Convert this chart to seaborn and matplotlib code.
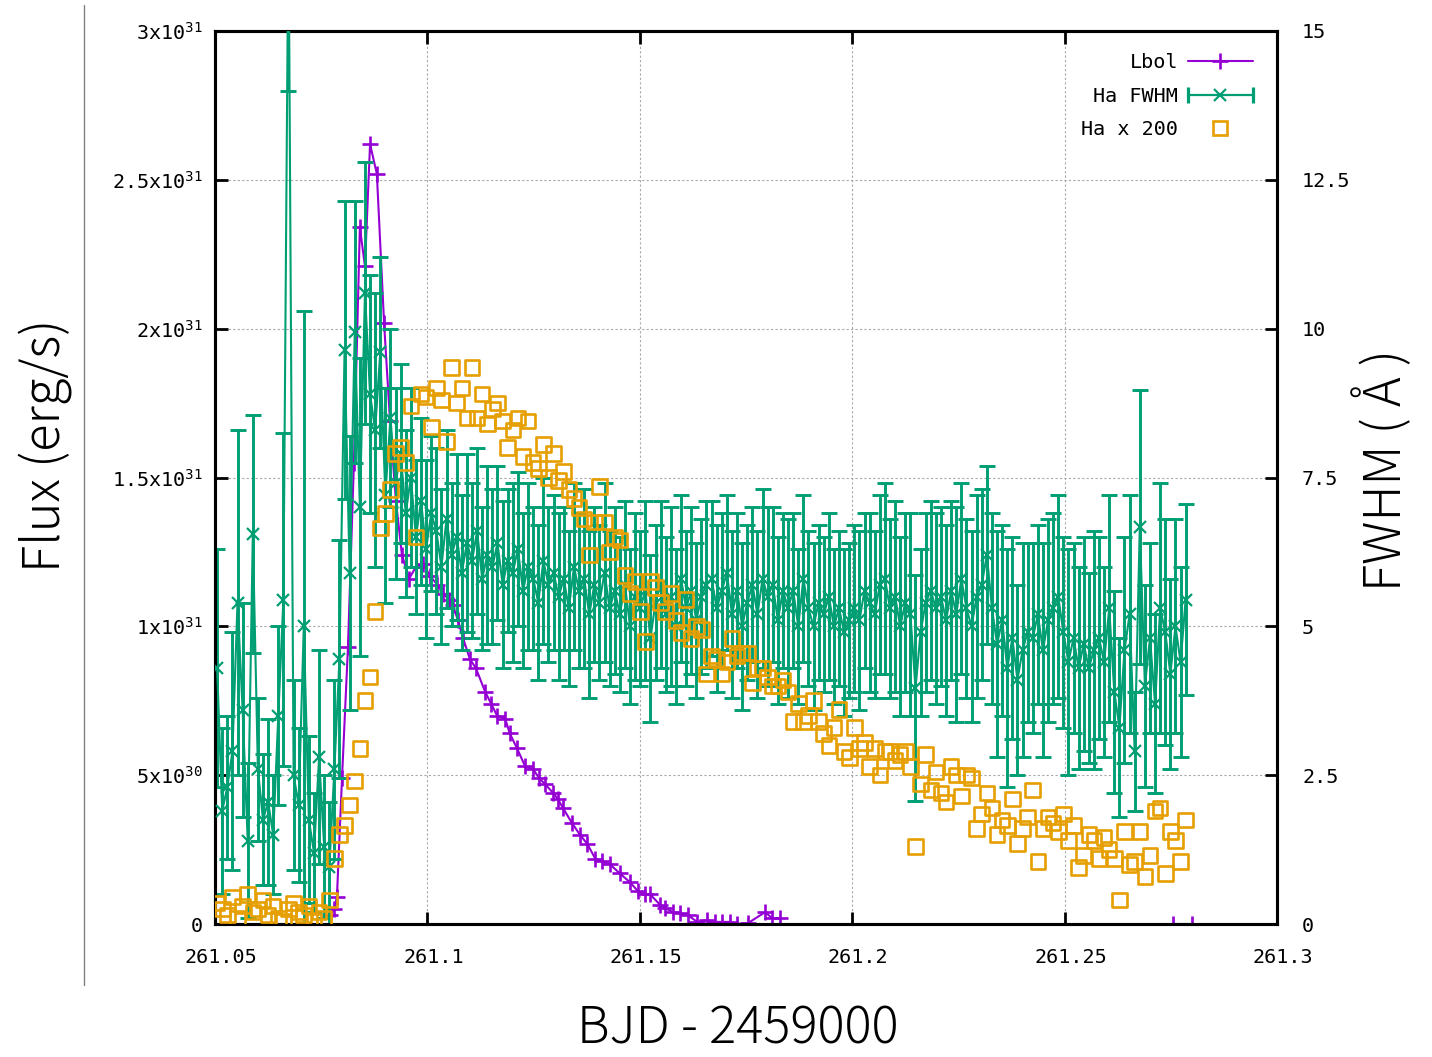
import numpy as np
import pandas as pd
import matplotlib
matplotlib.use("Agg")
import matplotlib.pyplot as plt
import seaborn as sns
from matplotlib.lines import Line2D
from matplotlib.legend_handler import HandlerLine2D, HandlerTuple
from matplotlib.transforms import ScaledTranslation

# ---------------- data ----------------
lbol_time = [261.0771, 261.0780, 261.0787, 261.0799, 261.0813, 261.0827, 261.0841, 261.0853, 261.0865, 261.0881,
             261.0898, 261.0912, 261.0926, 261.0940, 261.0957, 261.0973, 261.0990, 261.1006, 261.1023, 261.1037,
             261.1051, 261.1060, 261.1072, 261.1084, 261.1100, 261.1114, 261.1136, 261.1150, 261.1164, 261.1183,
             261.1194, 261.1211, 261.1230, 261.1249, 261.1263, 261.1277, 261.1296, 261.1307, 261.1319, 261.1340,
             261.1359, 261.1376, 261.1395, 261.1411, 261.1430, 261.1453, 261.1477, 261.1496, 261.1512, 261.1524,
             261.1548, 261.1559, 261.1578, 261.1595, 261.1613, 261.1635, 261.1658, 261.1677, 261.1694, 261.1712,
             261.1729, 261.1755, 261.1795, 261.1811, 261.1830]
lbol_flux_1e31 = [0.03, 0.05, 0.09, 0.49, 0.93, 1.55, 2.34, 2.21, 2.62, 2.52,
                  2.02, 1.69, 1.42, 1.24, 1.16, 1.20, 1.21, 1.17, 1.14, 1.11,
                  1.09, 1.07, 1.02, 0.96, 0.89, 0.86, 0.78, 0.74, 0.70, 0.69,
                  0.64, 0.59, 0.53, 0.52, 0.49, 0.47, 0.44, 0.42, 0.39, 0.34,
                  0.30, 0.27, 0.22, 0.21, 0.20, 0.17, 0.14, 0.11, 0.10, 0.10,
                  0.064, 0.054, 0.04, 0.037, 0.03, 0.007, 0.013, 0.007, 0.007, 0.007,
                  0.0, 0.003, 0.04, 0.02, 0.02]
lbol_tail_time = [261.2755, 261.2800]
lbol_tail_flux_1e31 = [0.0, 0.0]

spec_time = [261.0505, 261.0517, 261.0529, 261.0541, 261.0553, 261.0565, 261.0577, 261.0589, 261.0601, 261.0613,
             261.0625, 261.0637, 261.0649, 261.0661, 261.0673, 261.0685, 261.0697, 261.0709, 261.0721, 261.0733,
             261.0745, 261.0757, 261.0769, 261.0781, 261.0793, 261.0805, 261.0817, 261.0829, 261.0841, 261.0853,
             261.0865, 261.0877, 261.0889, 261.0901, 261.0913, 261.0925, 261.0937, 261.0949, 261.0961, 261.0973,
             261.0985, 261.0997, 261.1009, 261.1021, 261.1033, 261.1045, 261.1057, 261.1069, 261.1081, 261.1093,
             261.1105, 261.1117, 261.1129, 261.1141, 261.1153, 261.1165, 261.1177, 261.1189, 261.1201, 261.1213,
             261.1225, 261.1237, 261.1249, 261.1261, 261.1273, 261.1285, 261.1297, 261.1309, 261.1321, 261.1333,
             261.1345, 261.1357, 261.1369, 261.1381, 261.1393, 261.1405, 261.1417, 261.1429, 261.1441, 261.1453,
             261.1465, 261.1477, 261.1489, 261.1501, 261.1513, 261.1525, 261.1537, 261.1549, 261.1561, 261.1573,
             261.1585, 261.1597, 261.1609, 261.1621, 261.1633, 261.1645, 261.1657, 261.1669, 261.1681, 261.1693,
             261.1705, 261.1717, 261.1729, 261.1741, 261.1753, 261.1765, 261.1777, 261.1789, 261.1801, 261.1813,
             261.1825, 261.1837, 261.1849, 261.1861, 261.1873, 261.1885, 261.1897, 261.1909, 261.1921, 261.1933,
             261.1945, 261.1957, 261.1969, 261.1981, 261.1993, 261.2005, 261.2017, 261.2029, 261.2041, 261.2053,
             261.2065, 261.2077, 261.2089, 261.2101, 261.2113, 261.2125, 261.2137, 261.2149, 261.2161, 261.2173,
             261.2185, 261.2197, 261.2209, 261.2221, 261.2233, 261.2245, 261.2257, 261.2269, 261.2281, 261.2293,
             261.2305, 261.2317, 261.2329, 261.2341, 261.2353, 261.2365, 261.2377, 261.2389, 261.2401, 261.2413,
             261.2425, 261.2437, 261.2449, 261.2461, 261.2473, 261.2485, 261.2497, 261.2509, 261.2521, 261.2533,
             261.2545, 261.2557, 261.2569, 261.2581, 261.2593, 261.2605, 261.2617, 261.2629, 261.2641, 261.2653,
             261.2665, 261.2677, 261.2689, 261.2701, 261.2713, 261.2725, 261.2737, 261.2749, 261.2761, 261.2773,
             261.2785]

ha_fwhm = [4.3, 1.9, 2.3, 2.9, 5.4, 3.6, 1.4, 6.55, 2.6, 1.75,
           2.05, 1.5, 3.5, 5.45, 17.0, 2.5, 2.0, 5.0, 1.75, 1.2,
           2.8, 1.3, 0.95, 2.6, 4.45, 9.64, 5.9, 9.95, 7.0, 10.6,
           8.9, 8.3, 9.6, 7.2, 8.5, 7.4, 7.9, 6.9, 7.5, 6.5,
           7.1, 6.3, 6.9, 6.6, 6.0, 6.8, 6.2, 6.5, 5.9, 6.4,
           6.1, 6.6, 5.8, 6.2, 6.0, 6.4, 5.7, 6.1, 5.9, 6.3,
           5.6, 6.0, 5.8, 5.4, 6.1, 5.7, 5.9, 5.5, 5.8, 5.3,
           6.0, 5.6, 5.8, 5.2, 5.7, 5.4, 5.9, 5.3, 5.6, 5.2,
           5.7, 5.0, 5.5, 5.3, 5.6, 4.8, 5.4, 5.7, 5.2, 5.5,
           5.0, 5.8, 5.3, 5.6, 5.1, 5.5, 5.7, 5.8, 5.3, 5.6,
           5.9, 5.2, 5.6, 5.0, 5.4, 5.7, 5.2, 5.8, 5.5, 5.7,
           5.1, 5.6, 5.3, 5.6, 5.0, 5.8, 5.3, 5.0, 5.4, 5.2,
           5.5, 5.0, 5.3, 4.9, 5.1, 5.3, 5.1, 5.6, 5.4, 5.2,
           5.7, 5.8, 5.3, 5.5, 5.0, 5.4, 5.2, 3.96, 4.9, 5.4,
           5.6, 5.3, 5.5, 5.1, 5.6, 5.2, 5.8, 5.3, 5.0, 5.5,
           5.7, 6.2, 5.3, 4.7, 5.1, 4.3, 4.8, 4.1, 4.6, 4.9,
           4.8, 5.2, 4.6, 5.1, 5.3, 5.5, 4.9, 4.4, 4.8, 4.3,
           4.7, 4.3, 4.6, 4.8, 4.4, 5.3, 3.9, 3.3, 4.6, 5.2,
           2.9, 6.67, 4.0, 4.8, 3.7, 5.3, 4.9, 4.2, 5.0, 4.4,
           5.45]
ha_fwhm_err = [2.0, 1.4, 1.2, 2.0, 2.9, 1.8, 1.3, 2.0, 1.2, 1.1,
               1.4, 1.0, 1.5, 2.8, 3.0, 1.6, 1.3, 5.3, 1.4, 1.0,
               1.8, 1.2, 1.1, 1.5, 2.0, 2.5, 2.3, 2.2, 2.5, 2.2,
               2.0, 2.3, 1.6, 1.8, 1.5, 1.6, 1.5, 1.4, 1.5, 1.3,
               1.4, 1.5, 1.3, 1.4, 1.3, 1.5, 1.2, 1.4, 1.3, 1.5,
               1.3, 1.4, 1.2, 1.5, 1.3, 1.3, 1.4, 1.2, 1.5, 1.3,
               1.3, 1.4, 1.2, 1.3, 1.4, 1.3, 1.3, 1.4, 1.2, 1.3,
               1.4, 1.3, 1.5, 1.4, 1.3, 1.3, 1.5, 1.3, 1.4, 1.3,
               1.4, 1.3, 1.4, 1.3, 1.5, 1.4, 1.3, 1.4, 1.3, 1.5,
               1.3, 1.4, 1.3, 1.4, 1.3, 1.3, 1.4, 1.3, 1.4, 1.3,
               1.3, 1.4, 1.3, 1.4, 1.3, 1.3, 1.4, 1.5, 1.5, 1.3,
               1.4, 1.3, 1.5, 1.3, 1.3, 1.4, 1.3, 1.4, 1.3, 1.3,
               1.4, 1.3, 1.3, 1.4, 1.3, 1.4, 1.5, 1.3, 1.5, 1.4,
               1.5, 1.6, 1.5, 1.6, 1.5, 1.5, 1.7, 1.9, 1.4, 1.5,
               1.5, 1.6, 1.5, 1.6, 1.5, 1.8, 1.6, 1.5, 1.6, 1.7,
               1.6, 1.5, 1.6, 1.9, 1.6, 2.0, 1.7, 1.6, 1.8, 1.5,
               1.6, 1.5, 1.8, 1.7, 1.6, 1.7, 1.6, 1.9, 1.6, 1.7,
               1.8, 1.6, 2.0, 1.7, 1.6, 1.9, 1.7, 1.5, 1.9, 2.0,
               1.0, 2.3, 1.7, 1.6, 1.5, 2.1, 1.9, 1.6, 1.8, 1.6,
               1.6]
ha_x200_1e31 = [0.07, 0.05, 0.03, 0.09, 0.02, 0.06, 0.10, 0.04, 0.05, 0.08,
                0.03, 0.06, 0.02, 0.01, 0.05, 0.07, 0.04, 0.03, 0.06, 0.01,
                0.04, 0.02, 0.08, 0.22, 0.30, 0.33, 0.40, 0.48, 0.59, 0.75,
                0.83, 1.05, 1.33, 1.38, 1.46, 1.58, 1.60, 1.55, 1.74, 1.30,
                1.78, 1.77, 1.67, 1.80, 1.76, 1.62, 1.87, 1.75, 1.80, 1.70,
                1.87, 1.70, 1.78, 1.68, 1.73, 1.75, 1.69, 1.60, 1.66, 1.70,
                1.57, 1.69, 1.55, 1.53, 1.61, 1.50, 1.58, 1.49, 1.52, 1.46,
                1.43, 1.40, 1.36, 1.24, 1.35, 1.47, 1.35, 1.25, 1.30, 1.29,
                1.17, 1.11, 1.15, 1.05, 0.95, 1.15, 1.13, 1.08, 1.05, 1.11,
                1.02, 0.98, 1.09, 0.96, 1.00, 0.99, 0.84, 0.90, 0.89, 0.84,
                0.88, 0.96, 0.90, 0.91, 0.91, 0.81, 0.86, 0.86, 0.83, 0.80,
                0.80, 0.82, 0.78, 0.68, 0.74, 0.68, 0.70, 0.75, 0.68, 0.64,
                0.60, 0.66, 0.72, 0.58, 0.56, 0.66, 0.59, 0.61, 0.53, 0.59,
                0.50, 0.58, 0.58, 0.55, 0.57, 0.58, 0.53, 0.26, 0.47, 0.57,
                0.45, 0.51, 0.44, 0.41, 0.53, 0.50, 0.43, 0.50, 0.49, 0.32,
                0.37, 0.44, 0.39, 0.30, 0.35, 0.33, 0.42, 0.27, 0.32, 0.36,
                0.45, 0.21, 0.32, 0.36, 0.34, 0.31, 0.37, 0.28, 0.33, 0.19,
                0.23, 0.30, 0.28, 0.22, 0.29, 0.25, 0.22, 0.08, 0.31, 0.20,
                0.21, 0.31, 0.16, 0.23, 0.38, 0.39, 0.17, 0.31, 0.28, 0.21,
                0.35]

x_ticks = [261.05, 261.1, 261.15, 261.2, 261.25, 261.3]
x_tick_labels = ["261.05", "261.1", "261.15", "261.2", "261.25", "261.3"]
flux_ticks_1e31 = [0, 0.5, 1, 1.5, 2, 2.5, 3]
flux_tick_labels = ["0", "5x10$^{30}$", "1x10$^{31}$", "1.5x10$^{31}$",
                    "2x10$^{31}$", "2.5x10$^{31}$", "3x10$^{31}$"]
fwhm_ticks = [0, 2.5, 5, 7.5, 10, 12.5, 15]
fwhm_tick_labels = ["0", "2.5", "5", "7.5", "10", "12.5", "15"]

PURPLE = "#9400d3"
GREEN = "#009e73"
ORANGE = "#e69f00"
SCALE = 1e31

# ---------------- style ----------------
sns.set_theme(style="white")
plt.rcParams.update({
    "font.family": ["DejaVu Sans Mono"],
    "mathtext.default": "regular",
    "text.color": "black",
    "axes.edgecolor": "black",
    "axes.labelcolor": "black",
    "xtick.color": "black",
    "ytick.color": "black",
})

lbol_df = pd.DataFrame({"t": lbol_time, "flux": np.array(lbol_flux_1e31) * SCALE})
tail_df = pd.DataFrame({"t": lbol_tail_time, "flux": np.array(lbol_tail_flux_1e31) * SCALE})
spec_df = pd.DataFrame({"t": spec_time, "fwhm": ha_fwhm, "err": ha_fwhm_err,
                        "ha": np.array(ha_x200_1e31) * SCALE})

fig = plt.figure(figsize=(14.32, 10.57), dpi=100)
ax = fig.add_axes([215 / 1432, 1 - 924 / 1057, (1277 - 215) / 1432, (924 - 31) / 1057])
ax2 = ax.twinx()
ax3 = ax.twinx()

line_kw = dict(estimator=None, sort=False, legend=False)
lbol_style = dict(color=PURPLE, linewidth=1.5, marker="+", markersize=12,
                  markeredgewidth=1.9, markeredgecolor=PURPLE)
sns.lineplot(data=lbol_df, x="t", y="flux", ax=ax, **lbol_style, **line_kw)
sns.lineplot(data=tail_df, x="t", y="flux", ax=ax, **lbol_style, **line_kw)

ax2.errorbar(spec_df["t"], spec_df["fwhm"], yerr=spec_df["err"], fmt="none",
             ecolor=GREEN, elinewidth=2.1, capsize=5.8, capthick=2.1, zorder=2)
sns.lineplot(data=spec_df, x="t", y="fwhm", ax=ax2, color=GREEN, linewidth=1.5,
             marker="x", markersize=9, markeredgewidth=1.6, markeredgecolor=GREEN,
             zorder=3, **line_kw)

sns.scatterplot(data=spec_df, x="t", y="ha", ax=ax3, marker="s", s=110,
                facecolor="none", edgecolor=ORANGE, linewidth=1.9, legend=False, zorder=3)

ax.set_xlim(261.05, 261.3)
ax.set_ylim(0, 3 * SCALE)
ax2.set_ylim(0, 15)
ax3.set_ylim(0, 3 * SCALE)
for a in (ax, ax2, ax3):
    a.set_xlabel("")
    a.set_ylabel("")

ax.set_xticks(x_ticks)
ax.set_xticklabels(x_tick_labels)
ax.set_yticks(np.array(flux_ticks_1e31) * SCALE)
ax.set_yticklabels(flux_tick_labels)
ax2.set_yticks(fwhm_ticks)
ax2.set_yticklabels(fwhm_tick_labels)
ax3.set_yticks([])
ax3.tick_params(right=False, labelright=False)
for s in ax3.spines.values():
    s.set_visible(False)

ax.tick_params(axis="x", direction="in", length=9, width=2, top=True, bottom=True,
               labelsize=14.5, pad=17)
ax.tick_params(axis="y", direction="in", length=9, width=2, left=True, right=False,
               labelsize=14.5, pad=9)
ax2.tick_params(axis="y", direction="in", length=9, width=2, right=True, left=False,
                labelsize=14.5, pad=18)
for a in (ax, ax2):
    for s in a.spines.values():
        s.set_linewidth(2.2)
        s.set_color("black")

ax.grid(True, color="#a8a8a8", linestyle=(0, (2, 2)), linewidth=0.8)
ax.set_axisbelow(True)
ax2.grid(False)
ax3.grid(False)

offset = ScaledTranslation(6 / 100, 0, fig.dpi_scale_trans)
for lab in ax.get_xticklabels():
    lab.set_transform(lab.get_transform() + offset)

# legend
h_lbol = Line2D([], [], color=PURPLE, marker="+", markersize=12, markeredgewidth=1.9, linewidth=1.5)
h_fwhm_line = Line2D([], [], color=GREEN, marker="x", markersize=9, markeredgewidth=1.6, linewidth=1.6)
h_fwhm_caps = Line2D([], [], color=GREEN, marker="|", markersize=11, markeredgewidth=2.3, linewidth=0)
h_ha = Line2D([], [], color=ORANGE, marker="s", markersize=10, markerfacecolor="none",
              markeredgewidth=1.9, linewidth=0)
ax3.legend([h_lbol, (h_fwhm_line, h_fwhm_caps), h_ha], ["Lbol", "Ha FWHM", "Ha x 200"],
           handler_map={h_fwhm_caps: HandlerLine2D(numpoints=2, marker_pad=0),
                        tuple: HandlerTuple(ndivide=1)},
           markerfirst=False, frameon=False, loc="upper right",
           bbox_to_anchor=(0.977, 0.975), borderaxespad=0, borderpad=0,
           handlelength=3.2, handletextpad=0.5, labelspacing=0.72, fontsize=14.5, numpoints=1)

# axis titles
label_font = dict(family=["Noto Sans CJK JP", "DejaVu Sans"], fontweight="light", fontsize=36.5)
fig.text(45 / 1432, 1 - 445 / 1057, "Flux (erg/s)", rotation=90, ha="center", va="center", **label_font)
fig.text(1383 / 1432, 1 - 470 / 1057, "FWHM ( Å )", rotation=90, ha="center", va="center", **label_font)
fig.text(738 / 1432, 1.5 / 1057, "BJD - 2459000", ha="center", va="bottom", **label_font)

fig.add_artist(Line2D([84 / 1432, 84 / 1432], [1 - 5 / 1057, 1 - 985 / 1057],
                      transform=fig.transFigure, color="#808080", linewidth=1.0))

fig.savefig("out.png", dpi=100)
